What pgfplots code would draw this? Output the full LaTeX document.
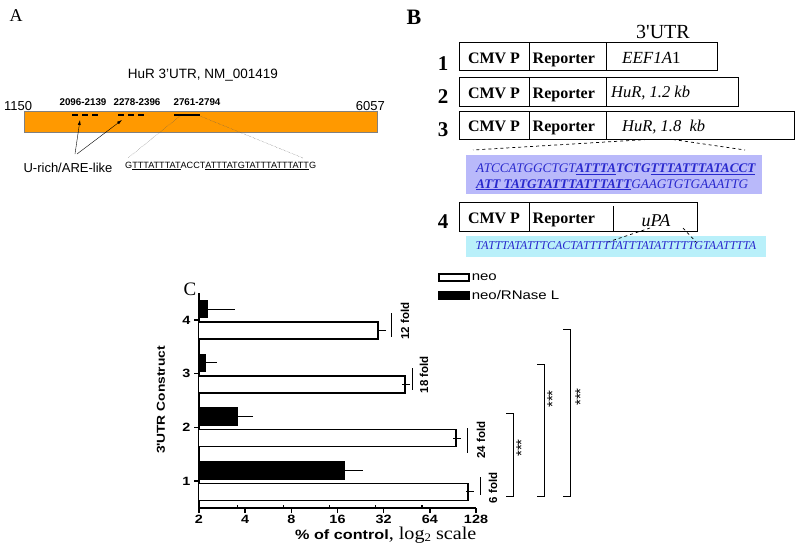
\documentclass[border=0pt]{standalone}
\usepackage{fontspec}
\setmainfont{Liberation Serif}
\setsansfont{Liberation Sans}
\newfontfamily\sfw{Liberation Sans}[FakeStretch=1.2]
\newfontfamily\rmw{Liberation Serif}[FakeStretch=1.12]
\usepackage{pgfplots}
\pgfplotsset{compat=1.18}
\usetikzlibrary{arrows.meta}

\definecolor{orangebar}{RGB}{255,153,0}
\definecolor{seqblue}{RGB}{40,40,205}
\definecolor{lavender}{RGB}{185,185,250}
\definecolor{paleblue}{RGB}{185,240,250}
\newcommand{\fs}[1]{\fontsize{#1}{#1}\selectfont}

\begin{document}
\begin{tikzpicture}
% panel C: bar chart, log2 x axis
\begin{axis}[
  at={(199pt,-508pt)}, anchor=south west,
  scale only axis, width=277pt, height=215pt,
  xmode=log, log basis x=2,
  xmin=2, xmax=128, ymin=0.5, ymax=4.5,
  xtick={2,4,8,16,32,64,128},
  xticklabels={2,4,8,16,32,64,128},
  extra x ticks={3.55,7.1,14.2,28.4,56.8},
  extra x tick labels={},
  extra x tick style={major tick length=3.5pt, tick align=inside},
  ytick={1,2,3,4},
  yticklabels={1,2,3,4},
  axis lines*=left,
  axis line style={line width=1.8pt},
  tick align=outside,
  major tick length=5pt,
  tick style={line width=1.4pt, black},
  ticklabel style={font=\sfw\bfseries\fs{12}},
  xticklabel style={yshift=1pt},
  legend style={at={(0.863,1.10)}, anchor=north west, draw=none, fill=none,
    font=\sfw\fs{12.5}, inner sep=0pt, row sep=5pt,
    /tikz/every even column/.append style={column sep=3pt}},
  legend cell align=left,
  legend image code/.code={\draw[#1, line width=1.5pt] (0pt,-3pt) rectangle (30pt,4pt);},
]
\addplot[xbar, bar shift=0pt, bar width=17pt, fill=white, draw=black, line width=1.4pt,
  error bars/.cd, x dir=plus, x explicit,
  error bar style={line width=1.2pt}, error mark options={mark size=4pt, line width=1.2pt}]
  coordinates {(113.7,0.8) +- (2.5,0) (94.5,1.8) +- (1.5,0) (44,2.8) +- (0.6,0) (29.3,3.8) +- (2.0,0)};
\addlegendentry{neo}
\addplot[xbar, bar shift=0pt, bar width=17pt, fill=black, draw=black, line width=1.4pt,
  error bars/.cd, x dir=plus, x explicit,
  error bar style={line width=1.2pt}, error mark options={mark size=4pt, line width=1.2pt}]
  coordinates {(17.7,1.2) +- (4.3,0) (3.58,2.2) +- (0.66,0) (2.2,3.2) +- (0.26,0) (2.26,4.2) +- (0.97,0)};
\addlegendentry{neo/RNase L}
\end{axis}

\begin{scope}[x=1pt,y=-1pt]
% ---- panel A ----
\node[font=\fs{18}] at (16,16) {A};
\node[font=\sffamily\fs{13.5}] at (203,75) {HuR 3’UTR, NM\_001419};
\draw[draw=gray, fill=orangebar] (24,111) rectangle (377,132);
\node[font=\sffamily\fs{13}, anchor=west, inner sep=0] at (4,106) {1150};
\node[font=\sffamily\fs{13}, anchor=east, inner sep=0] at (385,106) {6057};
\node[font=\sffamily\bfseries\fs{9.8}] at (83,102) {2096-2139};
\node[font=\sffamily\bfseries\fs{9.8}] at (137,102) {2278-2396};
\node[font=\sffamily\bfseries\fs{9.8}] at (197,102) {2761-2794};
\draw[line width=1.3pt, dash pattern=on 6pt off 4pt] (72,115) -- (100,115);
\draw[line width=1.3pt, dash pattern=on 6pt off 4pt] (118,115) -- (147,115);
\draw[line width=1.3pt] (174,115) -- (200,115);
\draw[-{Latex[length=5pt,width=3pt]}, thin] (75,154) -- (80,120);
\draw[-{Latex[length=5pt,width=3pt]}, thin] (77,154) -- (122,120);
\node[font=\sffamily\fs{13}] at (68,168) {U-rich/ARE-like};
\draw[densely dotted, gray!70!black] (180,116) -- (128,158);
\draw[densely dotted, gray!70!black] (200,116) -- (303,158);
\node[font=\sffamily\fs{9.1}, anchor=west, inner sep=0] at (125,166)
  {G\underline{TTTATTTAT}ACCT\underline{ATTTATGTATTTATTTATT}G};

% ---- panel B ----
\node[font=\bfseries\fs{22}] at (414,17) {B};
\node[font=\fs{20}, anchor=base] at (663,38.5) {3\textquotesingle UTR};
\foreach \y/\r/\b in {42/717/63.3, 77.3/738/98.3, 111/794/131.7} {
  \draw[line width=0.8pt] (459,\y) rectangle (\r,\y+28.7);
  \draw[line width=0.8pt] (529,\y) -- (529,\y+28.7);
  \draw[line width=0.8pt] (606,\y) -- (606,\y+28.7);
  \node[font=\bfseries\fs{16}, anchor=base] at (494,\b) {CMV P};
  \node[font=\bfseries\fs{16}, anchor=base west, inner sep=0] at (532.5,\b) {Reporter};
}
\node[font=\bfseries\fs{21}, anchor=base] at (443,70) {1};
\node[font=\bfseries\fs{21}, anchor=base] at (443,103.3) {2};
\node[font=\bfseries\fs{21}, anchor=base] at (443,136.7) {3};
\node[font=\itshape\fs{17}, anchor=base west, inner sep=0] at (622,63.3) {EEF1A\upshape 1};
\node[font=\itshape\fs{16.5}, anchor=base west, inner sep=0] at (611,97) {HuR, 1.2 kb};
\node[font=\itshape\fs{16.5}, anchor=base west, inner sep=0] at (622,131.7) {HuR, 1.8~ kb};
\draw[dashed, line width=0.7pt] (647,139.5) -- (473,150);
\draw[dashed, line width=0.7pt] (673,139.5) -- (745,150);
\fill[lavender] (466,155) rectangle (762,194);
\node[font=\itshape\fs{13.2}, text=seqblue, anchor=base west, inner sep=0] at (476,172.5)
  {ATCCATGGCTGT\textbf{\underline{ATTTA}TCTG\underline{TTTATTTATACCT}}};
\node[font=\itshape\fs{13.2}, text=seqblue, anchor=base west, inner sep=0] at (476,188)
  {\textbf{\underline{ATT TATGTATTTATTTATT}}GAAGTGTGAAATTG};
\draw[line width=0.8pt] (459,202) rectangle (697,231);
\draw[line width=0.8pt] (529,202) -- (529,231);
\draw[line width=0.8pt] (613,206) -- (613,231);
\node[font=\bfseries\fs{16}, anchor=base] at (494,223.3) {CMV P};
\node[font=\bfseries\fs{16}, anchor=base west, inner sep=0] at (532.5,223.3) {Reporter};
\node[font=\bfseries\fs{21}, anchor=base] at (443,228.3) {4};
\node[font=\itshape\fs{18}, anchor=base] at (656,226) {uPA};
\fill[paleblue] (466,236) rectangle (766,257);
\draw[dashed, line width=0.7pt] (650,228) -- (605,243);
\draw[dashed, line width=0.7pt] (683,228) -- (697,243);
\node[font=\itshape\fs{12}, text=seqblue] at (616,246)
  {TATTTATATTTCACTATTTTTATTTATATTTTTGTAATTTTA};

% ---- panel C annotations ----
\node[font=\fs{19}] at (190,289) {C};
\node[font=\sfw\bfseries\fs{11.5}, rotate=90] at (161,400) {3\textquotesingle UTR Construct};
\node[anchor=base west, inner sep=0] at (295,539)
  {\sfw\bfseries\fs{13.5}\% of control\rmw\mdseries\fs{18}, log\raisebox{-0.35ex}{\fs{11.5}2} scale};
\draw[line width=0.9pt] (391.7,313) -- (391.7,337);
\node[font=\sffamily\bfseries\fs{11.5}, rotate=90] at (405,321) {12 fold};
\draw[line width=0.9pt] (412,368) -- (412,390);
\node[font=\sffamily\bfseries\fs{11.5}, rotate=90] at (424,374.5) {18 fold};
\draw[line width=0.9pt] (467.5,428) -- (467.5,453);
\node[font=\sffamily\bfseries\fs{11.5}, rotate=90] at (481,440) {24 fold};
\draw[line width=0.9pt] (480,477) -- (480,495);
\node[font=\sffamily\bfseries\fs{11.5}, rotate=90] at (493,488) {6 fold};
\draw[line width=0.8pt] (506,413.5) -- (513,413.5) -- (513,496) -- (506,496);
\node[font=\sffamily\fs{15}, rotate=90] at (521.5,448) {***};
\draw[line width=0.8pt] (537,364.5) -- (544,364.5) -- (544,496.5) -- (537,496.5);
\node[font=\sffamily\fs{15}, rotate=90] at (552.5,399) {***};
\draw[line width=0.8pt] (563,329.5) -- (570.5,329.5) -- (570.5,496) -- (563,496);
\node[font=\sffamily\fs{15}, rotate=90] at (580.5,397) {***};
\end{scope}

\pgfresetboundingbox
\path[use as bounding box] (0pt,0pt) rectangle (800pt,-552pt);
\end{tikzpicture}
\end{document}
